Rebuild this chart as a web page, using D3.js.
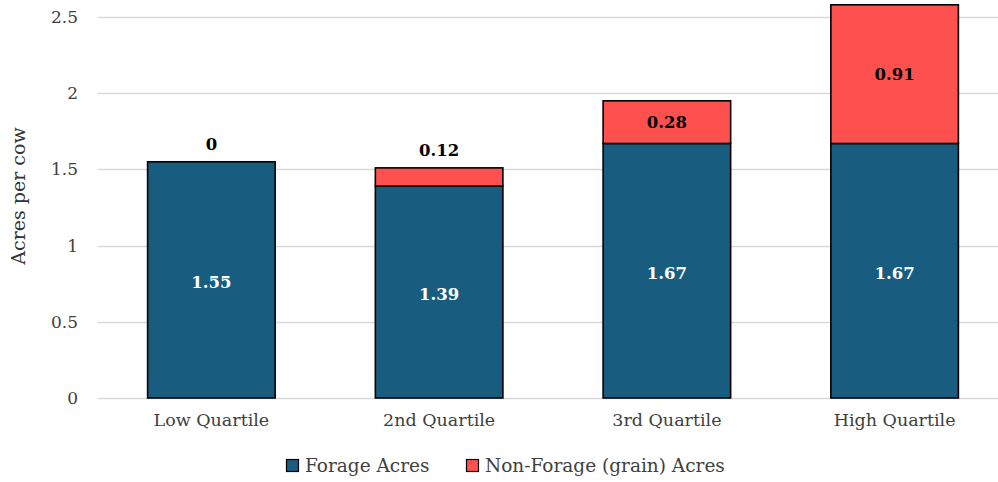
<!DOCTYPE html>
<html>
<head>
<meta charset="utf-8">
<script src="https://cdn.jsdelivr.net/npm/d3@7"></script>
<style>
  html, body { margin: 0; padding: 0; background: #fff; }
  svg { display: block; }
</style>
</head>
<body>
<svg id="chart" width="998" height="482"></svg>
<script>
// Acres per cow by herd quartile, split into forage and grain acres
const categories = ["Low Quartile", "2nd Quartile", "3rd Quartile", "High Quartile"];
const forageAcres = [1.55, 1.39, 1.67, 1.67];
const grainAcres = [0, 0.12, 0.28, 0.91];
const seriesNames = ["Forage Acres", "Non-Forage (grain) Acres"];
const yTicks = [0, 0.5, 1, 1.5, 2, 2.5];

const colors = ["#185d7f", "#ff5050"];
const serif = "'DejaVu Serif', serif";

const svg = d3.select("#chart");

const x = d3.scaleBand()
  .domain(categories)
  .range([97.5, 1008.5])
  .paddingInner(0.44)
  .paddingOuter(0.22);

const y = d3.scaleLinear()
  .domain([0, 2.5])
  .range([398, 17]);

// Horizontal gridlines
svg.append("g")
  .selectAll("line")
  .data(yTicks)
  .join("line")
  .attr("x1", 97.5)
  .attr("x2", 1008.5)
  .attr("y1", d => Math.round(y(d)) + 0.5)
  .attr("y2", d => Math.round(y(d)) + 0.5)
  .attr("stroke", "#d9d9d9")
  .attr("stroke-width", 1.5);

// Y axis tick labels
const yAxis = d3.axisLeft(y).tickValues(yTicks).tickSize(0).tickPadding(0)
  .tickFormat(d => d3.format("")(d));
const yg = svg.append("g").attr("transform", "translate(78,0)").call(yAxis);
yg.select(".domain").remove();
yg.selectAll("text")
  .attr("font-family", serif)
  .attr("font-size", 17)
  .attr("fill", "#404040");

// Y axis title
svg.append("text")
  .attr("transform", "translate(25,196) rotate(-90)")
  .attr("text-anchor", "middle")
  .attr("font-family", serif)
  .attr("font-size", 19)
  .attr("fill", "#333")
  .text("Acres per cow");

// X axis labels
const xAxis = d3.axisBottom(x).tickSize(0).tickPadding(0);
const xg = svg.append("g").attr("transform", "translate(0,414)").call(xAxis);
xg.select(".domain").remove();
xg.selectAll("text")
  .attr("font-family", serif)
  .attr("font-size", 17.5)
  .attr("fill", "#404040")
  .attr("dy", "0.71em");

// Stacked bars
const rows = categories.map((c, i) => ({ cat: c, forage: forageAcres[i], grain: grainAcres[i] }));
const stack = d3.stack().keys(["forage", "grain"]);
const layers = stack(rows);

const gLayers = svg.append("g")
  .selectAll("g")
  .data(layers)
  .join("g")
  .attr("fill", (d, i) => colors[i]);

gLayers.selectAll("rect")
  .data(d => d.filter(p => p[1] - p[0] > 0))
  .join("rect")
  .attr("x", d => x(d.data.cat))
  .attr("width", x.bandwidth())
  .attr("y", d => y(d[1]))
  .attr("height", d => y(d[0]) - y(d[1]))
  .attr("stroke", "#000")
  .attr("stroke-width", 1.6);

// Value labels
const labelFont = "'DejaVu Serif', serif";
rows.forEach(r => {
  svg.append("text")
    .attr("x", x(r.cat) + x.bandwidth() / 2)
    .attr("y", y(r.forage / 2) + 2)
    .attr("dy", "0.35em")
    .attr("text-anchor", "middle")
    .attr("font-family", labelFont)
    .attr("font-weight", "bold")
    .attr("font-size", 16.5)
    .attr("fill", "#fff")
    .text(d3.format(".2f")(r.forage));

  const small = r.grain < 0.2;
  svg.append("text")
    .attr("x", x(r.cat) + x.bandwidth() / 2)
    .attr("y", small ? y(r.forage + r.grain) - 12 : y(r.forage + r.grain / 2))
    .attr("dy", small ? "0" : "0.35em")
    .attr("text-anchor", "middle")
    .attr("font-family", labelFont)
    .attr("font-weight", "bold")
    .attr("font-size", 16.5)
    .attr("fill", "#000")
    .text(r.grain === 0 ? "0" : d3.format(".2f")(r.grain));
});

// Legend
const legend = svg.append("g").attr("transform", "translate(286,466)");
const legendX = [0, 180];
seriesNames.forEach((name, i) => {
  const g = legend.append("g").attr("transform", `translate(${legendX[i]},0)`);
  g.append("rect")
    .attr("x", 0.5).attr("y", -6.5)
    .attr("width", 12).attr("height", 12)
    .attr("fill", colors[i])
    .attr("stroke", "#000")
    .attr("stroke-width", 1.2);
  g.append("text")
    .attr("x", 19)
    .attr("y", 0)
    .attr("dy", "0.35em")
    .attr("font-family", serif)
    .attr("font-size", 18.5)
    .attr("fill", "#404040")
    .text(name);
});
</script>
</body>
</html>
